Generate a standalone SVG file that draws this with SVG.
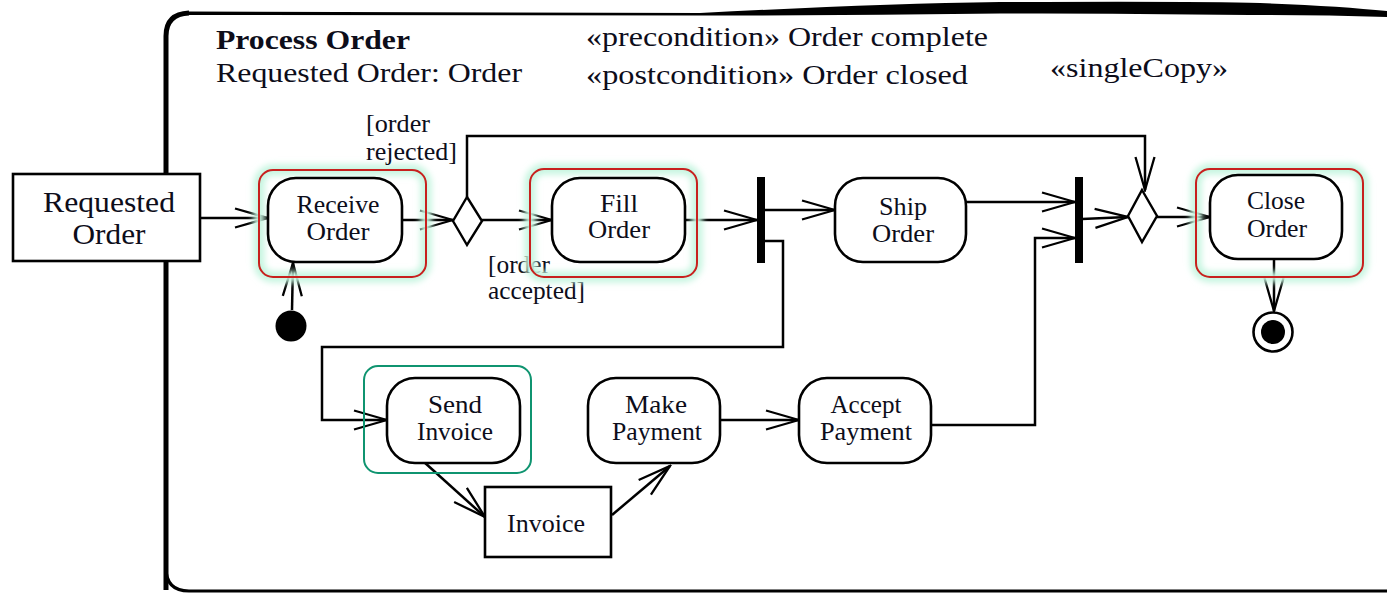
<svg xmlns="http://www.w3.org/2000/svg" width="1387" height="594" viewBox="0 0 1387 594">
  <defs>
    <marker id="open-arrow" markerUnits="userSpaceOnUse" markerWidth="36" markerHeight="22" viewBox="0 0 36 22" refX="34" refY="11" orient="auto">
      <path d="M1,1.5 L34,11 L1,20.5" fill="none" stroke="#000" stroke-width="2.3" stroke-linejoin="miter"/>
    </marker>
    <filter id="glow" x="-20%" y="-20%" width="140%" height="140%">
      <feGaussianBlur stdDeviation="3"/>
    </filter>
  </defs>
  <style>
    .lbl { font-family: "Liberation Serif", "Times New Roman", Times, serif; fill: #0d0d1a; }
    .node { font-size: 25px; text-anchor: middle; }
    .obj { font-size: 29px; text-anchor: middle; }
    .guard { font-size: 25px; }
    .head { font-size: 28px; }
    .action { fill: #fff; stroke: #000; stroke-width: 2.6; }
    .objbox { fill: #fff; stroke: #000; stroke-width: 2.6; }
    .edge { fill: none; stroke: #000; stroke-width: 2.5; marker-end: url(#open-arrow); }
    .hl-glow { fill: none; stroke: #c6f5e0; stroke-width: 11; filter: url(#glow); }
    .hl-red { fill: none; stroke: #c8201e; stroke-width: 2; }
    .hl-green { fill: none; stroke: #0f9470; stroke-width: 2; }
  </style>

  <rect width="1387" height="594" fill="#fff"/>

  <!-- activity frame -->
  <g id="frame">
    <path d="M166,590 L166,36 Q166,14 189,13" fill="none" stroke="#000" stroke-width="5"/>
    <path d="M188,11.5 L700,13 Q870,4 1000,2 Q1200,1 1260,3 Q1340,6 1387,11 L1387,17 Q1320,15 1250,15 Q1100,13 1000,13.5 Q850,15.5 700,15.5 L188,15 Z" fill="#000"/>
    <path d="M166,568 Q166,591 189,591 L1387,591" fill="none" stroke="#000" stroke-width="3.2"/>
  </g>

  <!-- header texts -->
  <g id="header" font-family="'Liberation Serif', 'Times New Roman', Times, serif">
    <text class="lbl head" x="216" y="49" font-weight="bold" font-size="27" textLength="194" lengthAdjust="spacingAndGlyphs">Process Order</text>
    <text class="lbl head" x="216" y="82" textLength="306" lengthAdjust="spacingAndGlyphs">Requested Order: Order</text>
    <text class="lbl head" x="586" y="46" textLength="402" lengthAdjust="spacingAndGlyphs">«precondition» Order complete</text>
    <text class="lbl head" x="586" y="84" textLength="382" lengthAdjust="spacingAndGlyphs">«postcondition» Order closed</text>
    <text class="lbl head" x="1050" y="77" textLength="178" lengthAdjust="spacingAndGlyphs">«singleCopy»</text>
  </g>

  <!-- connectors -->
  <g id="connectors">
    <path class="edge" d="M200,218 L268,218"/>
    <path class="edge" d="M402,220 L453,220"/>
    <path class="edge" d="M482,220 L552,220"/>
    <path class="edge" d="M467,197 L467,136 L1145,136 L1145,190"/>
    <path class="edge" d="M685,220 L757,220"/>
    <path class="edge" d="M765,210 L835,210"/>
    <path class="edge" d="M765,241 L783,241 L783,347 L322,347 L322,420 L387,420"/>
    <path class="edge" d="M966,202 L1075,202"/>
    <path class="edge" d="M931,425 L1035,425 L1035,238 L1075,238"/>
    <path class="edge" d="M1082,219 L1128,217"/>
    <path class="edge" d="M1157,217 L1210,217"/>
    <path class="edge" d="M1274,259 L1274,311"/>
    <path class="edge" d="M292,310 L293,263"/>
    <path class="edge" d="M424,462 L485,517"/>
    <path class="edge" d="M612,515 L670,466"/>
    <path class="edge" d="M720,420 L799,420"/>
  </g>

  <!-- object node: Requested Order -->
  <g id="requested-order">
    <rect class="objbox" x="13" y="174" width="187" height="87"/>
    <text class="lbl obj" x="109" y="212" textLength="132" lengthAdjust="spacingAndGlyphs">Requested</text>
    <text class="lbl obj" x="109" y="244" textLength="73" lengthAdjust="spacingAndGlyphs">Order</text>
  </g>

  <!-- initial node -->
  <g id="initial">
    <circle cx="291" cy="326" r="15.5" fill="#000"/>
  </g>

  <!-- action: Receive Order -->
  <g id="receive-order">
    <rect class="hl-glow" x="259" y="170" width="167" height="107" rx="14"/>
    <rect class="action" x="268" y="178" width="134" height="84" rx="28"/>
    <rect class="hl-red" x="259" y="170" width="167" height="107" rx="14"/>
    <text class="lbl node" x="338" y="213" textLength="83" lengthAdjust="spacingAndGlyphs">Receive</text>
    <text class="lbl node" x="338" y="240" textLength="63" lengthAdjust="spacingAndGlyphs">Order</text>
  </g>

  <!-- decision: accepted / rejected -->
  <g id="decision">
    <polygon points="467,197 482,221 467,245 453,221" fill="#fff" stroke="#000" stroke-width="2.4"/>
    <text class="lbl guard" x="366" y="132" textLength="64" lengthAdjust="spacingAndGlyphs">[order</text>
    <text class="lbl guard" x="366" y="160" textLength="91" lengthAdjust="spacingAndGlyphs">rejected]</text>
    <text class="lbl guard" x="488" y="273" textLength="62" lengthAdjust="spacingAndGlyphs">[order</text>
    <text class="lbl guard" x="488" y="299" textLength="97" lengthAdjust="spacingAndGlyphs">accepted]</text>
  </g>

  <!-- action: Fill Order -->
  <g id="fill-order">
    <rect class="hl-glow" x="530" y="169" width="167" height="108" rx="14"/>
    <rect class="action" x="552" y="178" width="133" height="84" rx="28"/>
    <rect class="hl-red" x="530" y="169" width="167" height="108" rx="14"/>
    <text class="lbl node" x="619" y="212" textLength="38" lengthAdjust="spacingAndGlyphs">Fill</text>
    <text class="lbl node" x="619" y="238" textLength="62" lengthAdjust="spacingAndGlyphs">Order</text>
  </g>

  <!-- fork -->
  <g id="fork">
    <rect x="757" y="177" width="8" height="86" fill="#000"/>
  </g>

  <!-- action: Ship Order -->
  <g id="ship-order">
    <rect class="action" x="835" y="178" width="131" height="84" rx="28"/>
    <text class="lbl node" x="903" y="215" textLength="48" lengthAdjust="spacingAndGlyphs">Ship</text>
    <text class="lbl node" x="903" y="242" textLength="62" lengthAdjust="spacingAndGlyphs">Order</text>
  </g>

  <!-- join -->
  <g id="join">
    <rect x="1075" y="177" width="8" height="86" fill="#000"/>
  </g>

  <!-- merge -->
  <g id="merge">
    <polygon points="1142,190 1157,216 1142,242 1128,216" fill="#fff" stroke="#000" stroke-width="2.4"/>
  </g>

  <!-- action: Close Order -->
  <g id="close-order">
    <rect class="hl-glow" x="1196" y="169" width="167" height="108" rx="14"/>
    <rect class="action" x="1210" y="175" width="132" height="84" rx="28"/>
    <rect class="hl-red" x="1196" y="169" width="167" height="108" rx="14"/>
    <text class="lbl node" x="1276" y="209" textLength="58" lengthAdjust="spacingAndGlyphs">Close</text>
    <text class="lbl node" x="1277" y="237" textLength="60" lengthAdjust="spacingAndGlyphs">Order</text>
  </g>

  <!-- final node -->
  <g id="final">
    <circle cx="1273" cy="332" r="19.5" fill="#fff" stroke="#000" stroke-width="2.6"/>
    <circle cx="1273" cy="332" r="12" fill="#000"/>
  </g>

  <!-- action: Send Invoice -->
  <g id="send-invoice">
    <rect class="action" x="387" y="378" width="133" height="85" rx="28"/>
    <rect class="hl-green" x="364" y="366" width="167" height="107" rx="14"/>
    <text class="lbl node" x="455" y="413" textLength="54" lengthAdjust="spacingAndGlyphs">Send</text>
    <text class="lbl node" x="455" y="440" textLength="76" lengthAdjust="spacingAndGlyphs">Invoice</text>
  </g>

  <!-- object node: Invoice -->
  <g id="invoice">
    <rect class="objbox" x="485" y="487" width="126" height="70"/>
    <text class="lbl node" x="546" y="532" textLength="78" lengthAdjust="spacingAndGlyphs">Invoice</text>
  </g>

  <!-- action: Make Payment -->
  <g id="make-payment">
    <rect class="action" x="588" y="378" width="132" height="85" rx="28"/>
    <text class="lbl node" x="656" y="413" textLength="62" lengthAdjust="spacingAndGlyphs">Make</text>
    <text class="lbl node" x="657" y="440" textLength="90" lengthAdjust="spacingAndGlyphs">Payment</text>
  </g>

  <!-- action: Accept Payment -->
  <g id="accept-payment">
    <rect class="action" x="799" y="378" width="132" height="85" rx="28"/>
    <text class="lbl node" x="866" y="413" textLength="71" lengthAdjust="spacingAndGlyphs">Accept</text>
    <text class="lbl node" x="866" y="440" textLength="92" lengthAdjust="spacingAndGlyphs">Payment</text>
  </g>
</svg>
